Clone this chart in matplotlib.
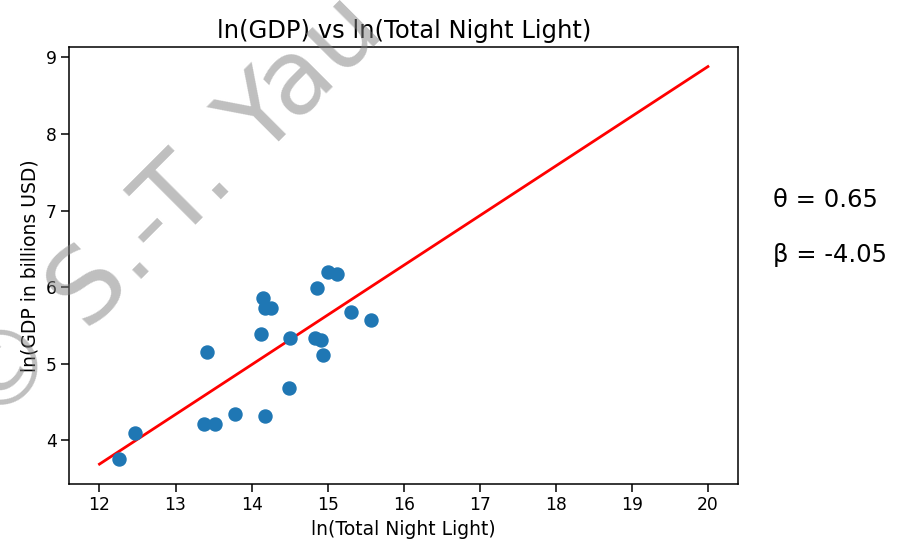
import matplotlib.pyplot as plt
import numpy as np

# 資料
night_light = [12.26, 12.47, 13.41, 13.38, 13.52, 13.78, 14.18, 14.12, 14.15, 14.18, 14.26,
               14.49, 14.51, 14.83, 14.91, 14.94, 14.86, 15.01, 15.12, 15.31, 15.57]
gdp = [3.76, 4.09, 5.15, 4.21, 4.21, 4.34, 4.32, 5.39, 5.86, 5.73, 5.73,
       4.68, 5.33, 5.33, 5.31, 5.12, 5.99, 6.20, 6.17, 5.68, 5.57]

# 迴歸線端點
line_x = [12, 20]
line_y = [3.69, 8.88]
theta_txt = 'θ = 0.65'
beta_txt = 'β = -4.05'

fig = plt.figure(figsize=(8.99, 5.48), dpi=100)
ax = fig.add_axes([0.0768, 0.1168, 0.7445, 0.7980])

ax.scatter(night_light, gdp, s=88, color='#1f77b4', zorder=3)
ax.plot(line_x, line_y, color='red', linewidth=2.0, zorder=2)

ax.set_xticks(np.arange(12, 21, 1))
ax.set_yticks(np.arange(4, 10, 1))
ax.tick_params(labelsize=12.3, length=5.5, width=1.1)
for sp in ax.spines.values():
    sp.set_linewidth(1.1)

ax.set_title('ln(GDP) vs ln(Total Night Light)', fontsize=17.5)
ax.set_xlabel('ln(Total Night Light)', fontsize=13.5)
ax.set_ylabel('ln(GDP in billions USD)', fontsize=13.5)

# 右側參數文字
fig.text(773 / 899, 1 - 207 / 548, theta_txt, fontsize=17.5, ha='left', va='baseline')
fig.text(773 / 899, 1 - 262 / 548, beta_txt, fontsize=17.5, ha='left', va='baseline')

# 浮水印
fig.text(387 / 899, 1 - 33 / 548, '© S.-T. Yau', fontsize=75, color='gray', alpha=0.5,
         rotation=45, rotation_mode='anchor', ha='right', va='baseline', zorder=10)

fig.savefig('out.png', dpi=100)
